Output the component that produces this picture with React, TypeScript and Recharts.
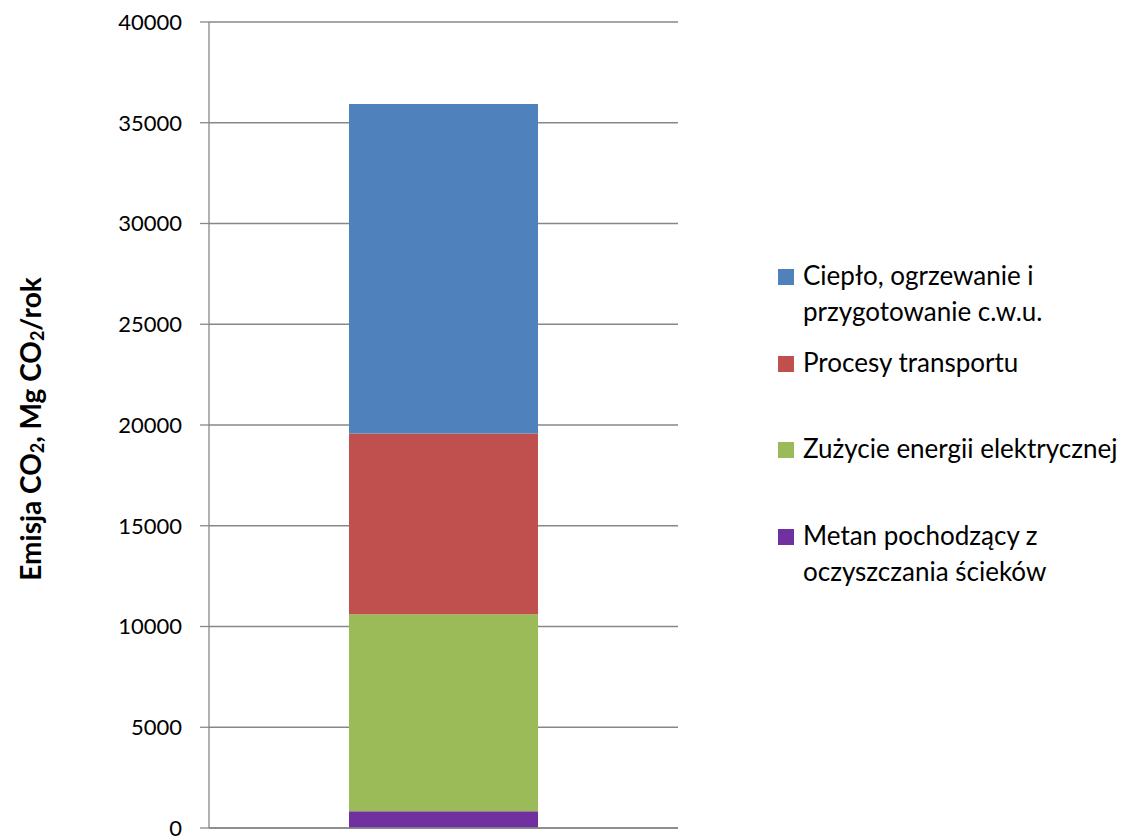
import React from 'react';
import { BarChart, Bar, XAxis, YAxis, CartesianGrid, Label } from 'recharts';

// emission sources, bottom of the stack first
const seriesKeys = ['metan', 'energia', 'transport', 'cieplo'];
const seriesNames = [
  'Metan pochodzący z\noczyszczania ścieków',
  'Zużycie energii elektrycznej',
  'Procesy transportu',
  'Ciepło, ogrzewanie i\nprzygotowanie c.w.u.',
];
const seriesColors = ['#7030A0', '#9BBB59', '#C0504D', '#4F81BD'];

const categories = [''];
const metan = [830];
const energia = [9780];
const transport = [8970];
const cieplo = [16350];

const yTicks = [0, 5000, 10000, 15000, 20000, 25000, 30000, 35000, 40000];

const data = categories.map((name, i) => ({
  name,
  metan: metan[i],
  energia: energia[i],
  transport: transport[i],
  cieplo: cieplo[i],
}));

const FONT = 'Lato, "Open Sans", sans-serif';
const AXIS_GRAY = '#878787';

const YTitle = (props: any) => {
  const { viewBox } = props;
  const cx = viewBox.x + 30;
  const cy = viewBox.y + viewBox.height / 2 + 4;
  const sub = { fontSize: 18 };
  return (
    <text
      x={cx}
      y={cy}
      transform={`rotate(-90 ${cx} ${cy})`}
      textAnchor="middle"
      dominantBaseline="central"
      fontFamily={FONT}
      fontWeight="bold"
      fontSize={28}
      fill="#000"
    >
      <tspan>Emisja CO</tspan>
      <tspan dy={7} style={sub}>2</tspan>
      <tspan dy={-7}>, Mg CO</tspan>
      <tspan dy={7} style={sub}>2</tspan>
      <tspan dy={-7}>/rok</tspan>
    </text>
  );
};

// legend lists the stack top to bottom
const legendItems = seriesKeys
  .map((key, i) => ({ key, name: seriesNames[i], color: seriesColors[i] }))
  .reverse();

const App: React.FC = () => {
  return (
    <div style={{ position: 'absolute', left: 0, top: 0, width: 1136, height: 838, background: '#fff' }}>
      <BarChart
        width={1136}
        height={838}
        data={data}
        margin={{ top: 22, right: 458, bottom: 0, left: 0 }}
        barSize={189}
      >
        <CartesianGrid vertical={false} stroke={AXIS_GRAY} strokeWidth={1.3} />
        <XAxis dataKey="name" height={10} tick={false} tickLine={false} axisLine={{ stroke: AXIS_GRAY, strokeWidth: 1.3 }} />
        <YAxis
          width={209}
          domain={[0, 40000]}
          ticks={yTicks}
          interval={0}
          tickSize={9}
          tickMargin={18}
          tickLine={{ stroke: AXIS_GRAY, strokeWidth: 1.3 }}
          axisLine={{ stroke: AXIS_GRAY, strokeWidth: 1.3 }}
          tick={{ fill: '#000', fontSize: 22, fontFamily: FONT }}
        >
          <Label content={YTitle} />
        </YAxis>
        {seriesKeys.map((key, i) => (
          <Bar
            key={key}
            dataKey={key}
            name={seriesNames[i]}
            stackId="a"
            fill={seriesColors[i]}
            isAnimationActive={false}
          />
        ))}
      </BarChart>
      <div style={{ position: 'absolute', left: 778, top: 269, fontFamily: FONT, fontSize: 26, color: '#000' }}>
        {legendItems.map((item) => (
          <div key={item.key} style={{ height: 86.7, display: 'flex', alignItems: 'flex-start' }}>
            <div style={{ width: 16, height: 16, background: item.color, marginRight: 9, flex: 'none' }} />
            <div style={{ whiteSpace: 'pre-line', lineHeight: '36px', marginTop: -12 }}>{item.name}</div>
          </div>
        ))}
      </div>
    </div>
  );
};

export default App;
